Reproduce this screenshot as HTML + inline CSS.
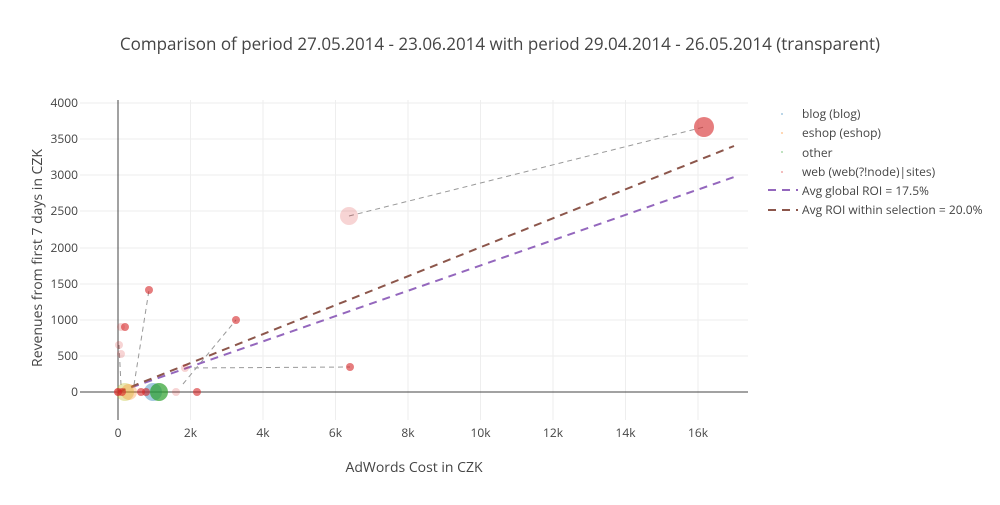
<!DOCTYPE html><html><head><style>body{margin:0;background:#fff}svg{font-family:"Open Sans","Liberation Sans",sans-serif}</style></head><body>
<svg width="1000" height="500" viewBox="0 0 1000 500">
<rect width="1000" height="500" fill="#fff"/>
<text x="500" y="50" text-anchor="middle" font-size="17" fill="#444">Comparison of period 27.05.2014 - 23.06.2014 with period 29.04.2014 - 26.05.2014 (transparent)</text>
<g stroke="#eee" stroke-width="1">
<line x1="190.5" y1="100" x2="190.5" y2="420"/><line x1="263" y1="100" x2="263" y2="420"/><line x1="335.5" y1="100" x2="335.5" y2="420"/><line x1="408" y1="100" x2="408" y2="420"/><line x1="480.5" y1="100" x2="480.5" y2="420"/><line x1="553" y1="100" x2="553" y2="420"/><line x1="625.5" y1="100" x2="625.5" y2="420"/><line x1="698" y1="100" x2="698" y2="420"/>
<line x1="80" y1="356" x2="748" y2="356"/><line x1="80" y1="320" x2="748" y2="320"/><line x1="80" y1="284" x2="748" y2="284"/><line x1="80" y1="248" x2="748" y2="248"/><line x1="80" y1="211" x2="748" y2="211"/><line x1="80" y1="175" x2="748" y2="175"/><line x1="80" y1="139" x2="748" y2="139"/><line x1="80" y1="103" x2="748" y2="103"/>
</g>
<line x1="118" y1="100" x2="118" y2="420" stroke="#444"/>
<line x1="80" y1="392" x2="748" y2="392" stroke="#444"/>
<g font-size="12" fill="#444" text-anchor="end">
<text x="78" y="396">0</text><text x="78" y="360">500</text><text x="78" y="324">1000</text><text x="78" y="288">1500</text><text x="78" y="252">2000</text><text x="78" y="215">2500</text><text x="78" y="179">3000</text><text x="78" y="143">3500</text><text x="78" y="107">4000</text>
</g>
<g font-size="12" fill="#444" text-anchor="middle">
<text x="118" y="437">0</text><text x="190.5" y="437">2k</text><text x="263" y="437">4k</text><text x="335.5" y="437">6k</text><text x="408" y="437">8k</text><text x="480.5" y="437">10k</text><text x="553" y="437">12k</text><text x="625.5" y="437">14k</text><text x="698" y="437">16k</text>
</g>
<text x="414" y="472" text-anchor="middle" font-size="14" fill="#444">AdWords Cost in CZK</text>
<text transform="translate(42,258) rotate(-90)" text-anchor="middle" font-size="14" fill="#444">Revenues from first 7 days in CZK</text>
<g stroke="#999" stroke-width="1" stroke-dasharray="5,4" fill="none">
<line x1="349" y1="216" x2="704" y2="127"/>
<line x1="185" y1="368" x2="350" y2="367"/>
<line x1="183" y1="384" x2="236" y2="320"/>
<line x1="134" y1="385" x2="149" y2="290"/>
<line x1="121" y1="385" x2="119" y2="345"/>
</g>
<line x1="118" y1="392" x2="734" y2="177" stroke="#9467bd" stroke-width="2" stroke-dasharray="8,6"/>
<line x1="118" y1="392" x2="734" y2="146" stroke="#8c564b" stroke-width="2" stroke-dasharray="8,6"/>
<g>
<circle cx="349" cy="216" r="9" fill="#d62728" opacity="0.2"/>
<circle cx="185" cy="368" r="4" fill="#d62728" opacity="0.2"/>
<circle cx="176" cy="392" r="4" fill="#d62728" opacity="0.2"/>
<circle cx="121" cy="327" r="4" fill="#d62728" opacity="0.2"/>
<circle cx="119" cy="345" r="4" fill="#d62728" opacity="0.2"/>
<circle cx="121" cy="354" r="4" fill="#d62728" opacity="0.2"/>
<circle cx="153" cy="392" r="9" fill="#1f77b4" opacity="0.4"/>
<circle cx="125" cy="392" r="9" fill="#bcbd22" opacity="0.35"/>
<circle cx="129" cy="392" r="8" fill="#ff7f0e" opacity="0.3"/>
<circle cx="159" cy="392" r="9" fill="#2ca02c" opacity="0.7"/>
<circle cx="704" cy="127" r="10" fill="#d62728" opacity="0.6"/>
<circle cx="350" cy="367" r="4" fill="#d62728" opacity="0.6"/>
<circle cx="236" cy="320" r="4" fill="#d62728" opacity="0.6"/>
<circle cx="149" cy="290" r="4" fill="#d62728" opacity="0.6"/>
<circle cx="125" cy="327" r="4" fill="#d62728" opacity="0.6"/>
<circle cx="197" cy="392" r="4" fill="#d62728" opacity="0.6"/>
<circle cx="141" cy="392" r="4" fill="#d62728" opacity="0.6"/>
<circle cx="146" cy="392" r="4" fill="#d62728" opacity="0.6"/>
<circle cx="118" cy="392" r="4" fill="#d62728" opacity="0.7"/>
<circle cx="122" cy="392" r="4" fill="#d62728" opacity="0.6"/>
</g>
<g font-size="12" fill="#444">
<circle cx="782" cy="114" r="1" fill="#1f77b4" opacity="0.4"/><text x="802" y="118">blog (blog)</text>
<circle cx="782" cy="133" r="1" fill="#ff7f0e" opacity="0.4"/><text x="802" y="137">eshop (eshop)</text>
<circle cx="782" cy="152" r="1" fill="#2ca02c" opacity="0.4"/><text x="802" y="157">other</text>
<circle cx="782" cy="172" r="1" fill="#d62728" opacity="0.4"/><text x="802" y="176">web (web(?!node)|sites)</text>
<line x1="768" y1="190" x2="798" y2="190" stroke="#9467bd" stroke-width="2" stroke-dasharray="8,6"/><text x="802" y="195">Avg global ROI = 17.5%</text>
<line x1="768" y1="210" x2="798" y2="210" stroke="#8c564b" stroke-width="2" stroke-dasharray="8,6"/><text x="802" y="214">Avg ROI within selection = 20.0%</text>
</g>
</svg></body></html>
